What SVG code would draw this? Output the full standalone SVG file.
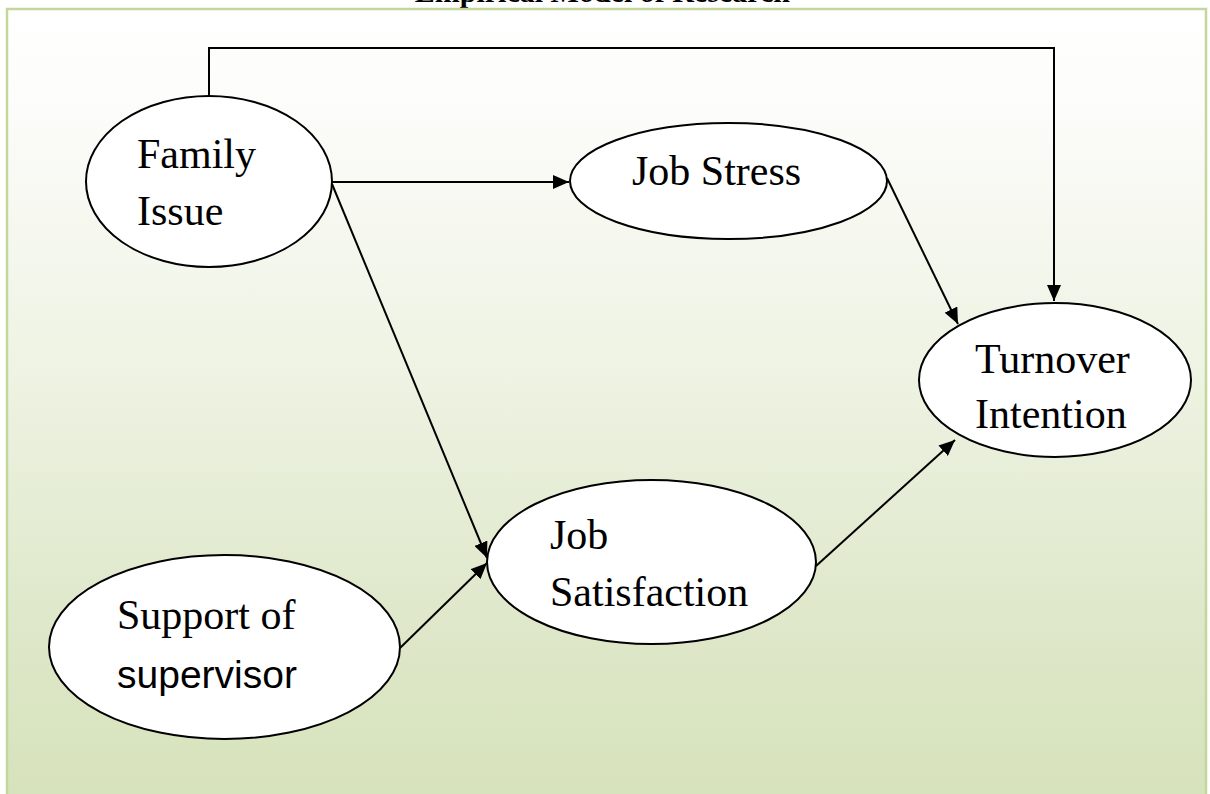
<svg xmlns="http://www.w3.org/2000/svg" width="1210" height="794" viewBox="0 0 1210 794">
<defs>
<linearGradient id="bg" x1="0" y1="0" x2="0" y2="1">
<stop offset="0" stop-color="#ffffff"/>
<stop offset="0.12" stop-color="#fcfcfa"/>
<stop offset="0.45" stop-color="#eef3e3"/>
<stop offset="0.75" stop-color="#dfe8cb"/>
<stop offset="1" stop-color="#d6e2ba"/>
</linearGradient>
<marker id="arr" markerUnits="userSpaceOnUse" markerWidth="18" markerHeight="14" refX="16" refY="7" orient="auto">
<path d="M0,0 L16,7 L0,14 Z" fill="#000"/>
</marker>
<style>
.node ellipse{fill:#fff;stroke:#000;stroke-width:2}
.t{font-family:"Liberation Serif","Times New Roman",serif;font-size:42px;fill:#000}
.s{font-family:"Liberation Sans",Arial,sans-serif;font-size:39px;fill:#000}
.c{fill:none;stroke:#000;stroke-width:2}
</style>
</defs>
<rect x="0" y="0" width="1210" height="794" fill="#ffffff"/>
<text x="790" y="1.5" text-anchor="end" font-family="Liberation Serif,'Times New Roman',serif" font-weight="bold" font-size="30">Empirical Model of Research</text>
<rect x="7" y="9" width="1199" height="800" fill="url(#bg)" stroke="#c3d69b" stroke-width="2.5"/>
<g id="connectors">
<path class="c" d="M209,96 V48 H1054 V301" marker-end="url(#arr)"/>
<path class="c" d="M332,182 H569" marker-end="url(#arr)"/>
<path class="c" d="M887,178 L958,324" marker-end="url(#arr)"/>
<path class="c" d="M332,184 L487,558" marker-end="url(#arr)"/>
<path class="c" d="M400,648 L487,563" marker-end="url(#arr)"/>
<path class="c" d="M816,566 L955,440" marker-end="url(#arr)"/>
</g>
<g id="family-issue" class="node">
<ellipse cx="209" cy="181.5" rx="123" ry="85.5"/>
<text class="t" x="137" y="168">Family</text>
<text class="t" x="137" y="225">Issue</text>
</g>
<g id="job-stress" class="node">
<ellipse cx="728.5" cy="181" rx="158.5" ry="58"/>
<text class="t" x="632" y="185">Job Stress</text>
</g>
<g id="turnover-intention" class="node">
<ellipse cx="1055" cy="380" rx="136" ry="77"/>
<text class="t" x="975" y="373">Turnover</text>
<text class="t" x="975" y="428">Intention</text>
</g>
<g id="job-satisfaction" class="node">
<ellipse cx="651.5" cy="562" rx="164.5" ry="82"/>
<text class="t" x="550" y="549">Job</text>
<text class="t" x="550" y="606">Satisfaction</text>
</g>
<g id="support-of-supervisor" class="node">
<ellipse cx="224.5" cy="647" rx="175.5" ry="92"/>
<text class="t" x="117" y="629">Support of</text>
<text class="s" x="117" y="688">supervisor</text>
</g>
</svg>
